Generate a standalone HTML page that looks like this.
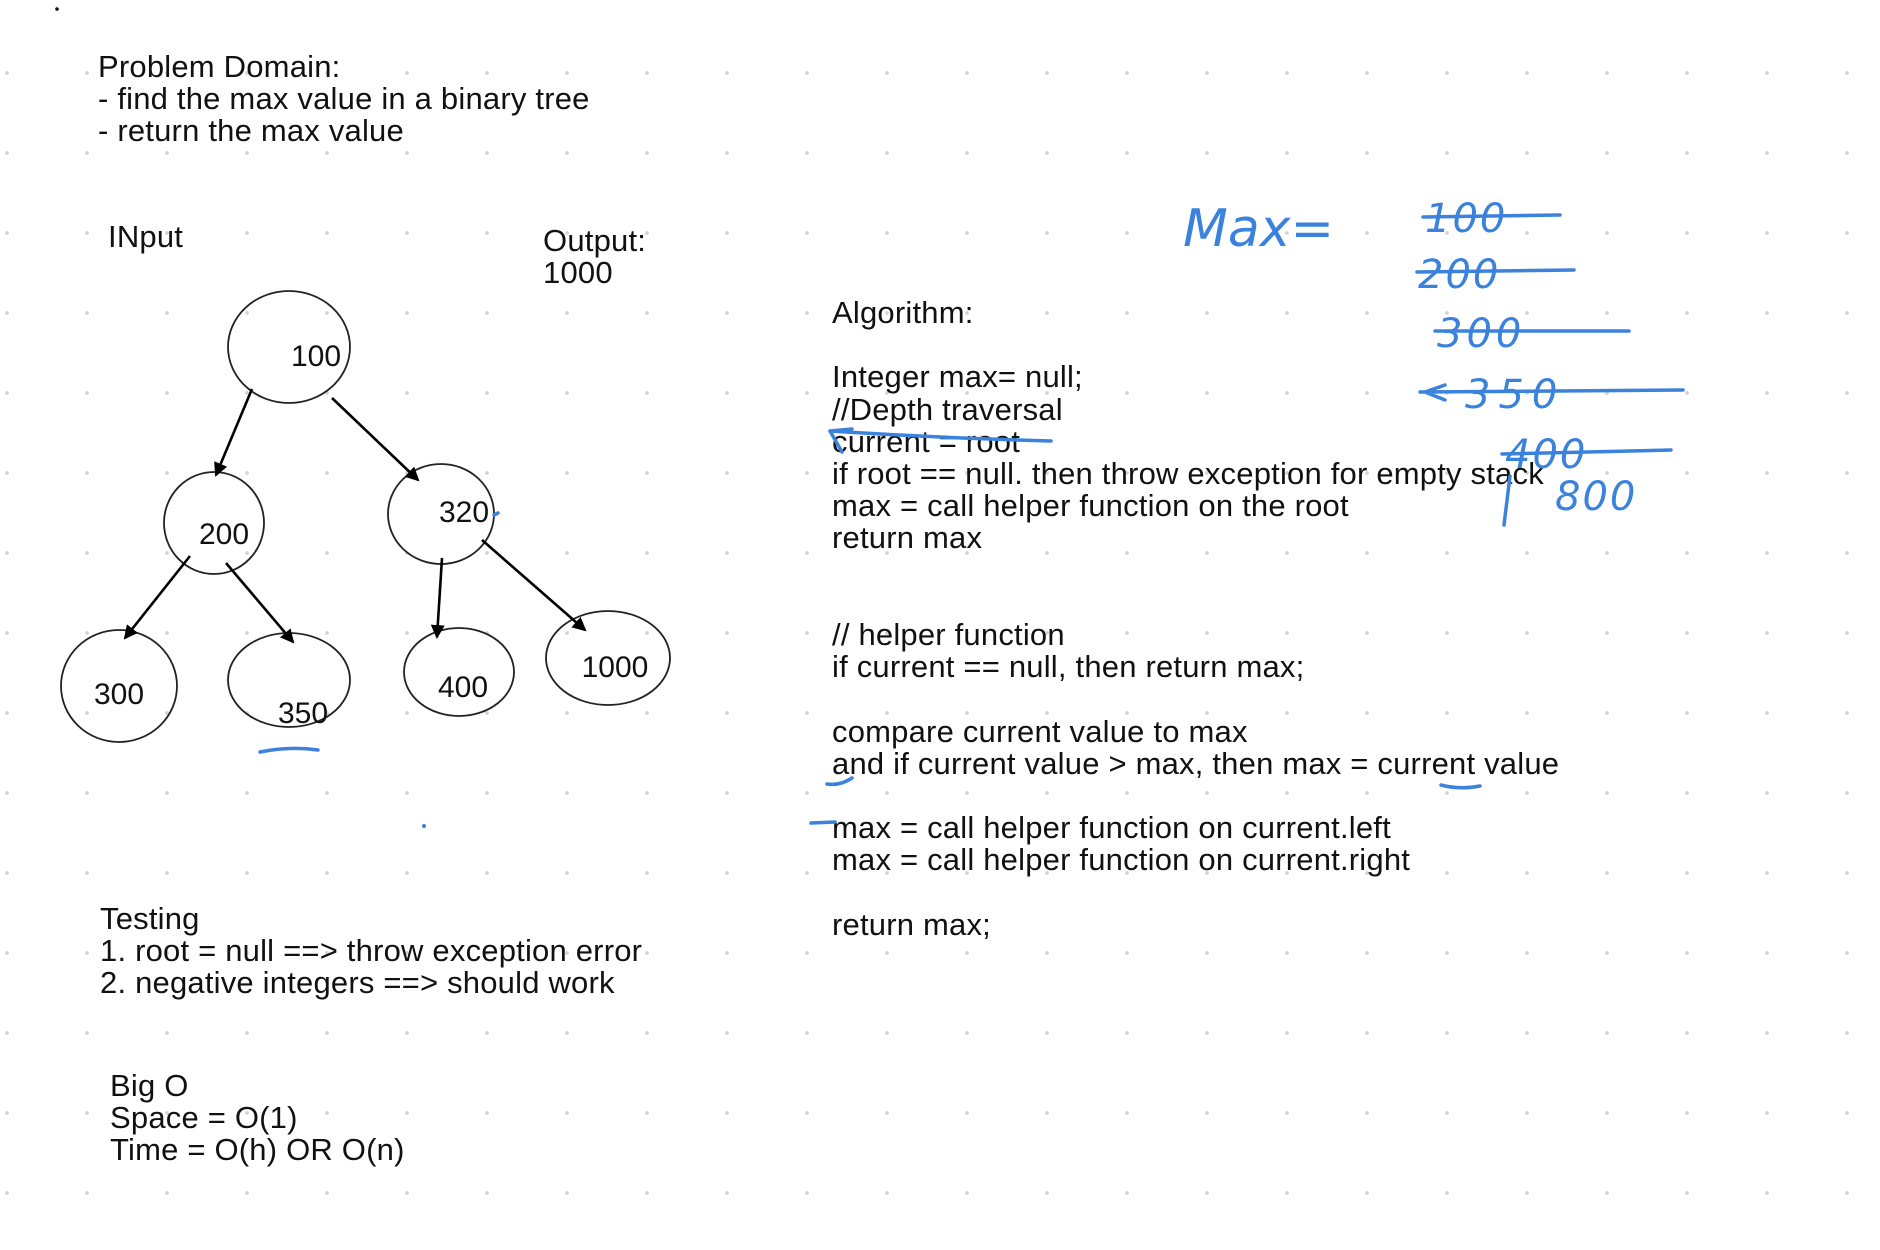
<!DOCTYPE html>
<html><head><meta charset="utf-8"><style>
html,body{margin:0;padding:0;background:#fff;}
body{width:1880px;height:1250px;position:relative;overflow:hidden;
background-image:radial-gradient(circle,#d4d4d4 1.6px,transparent 2.2px);
background-size:80px 80px;background-position:-33px 33px;}
.t{position:absolute;font-family:"Liberation Sans",Arial,sans-serif;font-size:31px;line-height:32.2px;color:#111;white-space:pre;letter-spacing:0.2px}
svg{position:absolute;left:0;top:0}
</style></head><body>
<div class="t" style="left:98px;top:51px">Problem Domain:
- find the max value in a binary tree
- return the max value</div>
<div class="t" style="left:108px;top:221px">INput</div>
<div class="t" style="left:543px;top:225px">Output:
1000</div>
<div class="t" style="left:832px;top:297px">Algorithm:

Integer max= null;
//Depth traversal
current = root
if root == null. then throw exception for empty stack
max = call helper function on the root
return max


// helper function
if current == null, then return max;

compare current value to max
and if current value &gt; max, then max = current value

max = call helper function on current.left
max = call helper function on current.right

return max;</div>
<div class="t" style="left:100px;top:903px">Testing
1. root = null ==&gt; throw exception error
2. negative integers ==&gt; should work</div>
<div class="t" style="left:110px;top:1070px">Big O
Space = O(1)
Time = O(h) OR O(n)</div>
<svg width="1880" height="1250" viewBox="0 0 1880 1250">
<defs><marker id="a" markerWidth="14" markerHeight="14" refX="12" refY="7" orient="auto" markerUnits="userSpaceOnUse" viewBox="0 0 14 14"><path d="M0,0 L14,7 L0,14 z" fill="#000"/></marker></defs>
<g fill="none" stroke="#222" stroke-width="1.8">
<ellipse cx="289" cy="347" rx="61" ry="56"/>
<ellipse cx="214" cy="523" rx="50" ry="51"/>
<ellipse cx="441" cy="514" rx="53" ry="50"/>
<ellipse cx="119" cy="686" rx="58" ry="56"/>
<ellipse cx="289" cy="680" rx="61" ry="47"/>
<ellipse cx="459" cy="672" rx="55" ry="44"/>
<ellipse cx="608" cy="658" rx="62" ry="47"/>
</g>
<g stroke="#000" stroke-width="2.6" marker-end="url(#a)">
<line x1="252" y1="389" x2="216" y2="475"/>
<line x1="332" y1="398" x2="418" y2="480"/>
<line x1="190" y1="556" x2="125" y2="638"/>
<line x1="226" y1="563" x2="293" y2="642"/>
<line x1="442" y1="558" x2="437" y2="637"/>
<line x1="482" y1="540" x2="585" y2="630"/>
</g>
<g font-family="Liberation Sans,Arial,sans-serif" font-size="30" text-anchor="middle" fill="#111">
<text x="316" y="366">100</text><text x="224" y="544">200</text><text x="464" y="522">320</text>
<text x="119" y="704">300</text><text x="303" y="723">350</text><text x="463" y="697">400</text><text x="615" y="677">1000</text>
</g>
<g fill="none" stroke="#3b82dc" stroke-width="3.5" stroke-linecap="round">
<path d="M1051,441 Q940,438 830,431 M830,431 L842,452 M830,431 L852,429"/>
<path d="M260,752 Q290,746 318,750"/>
<path d="M1441,785 Q1460,790 1480,786"/>
<path d="M827,784 Q840,786 852,778"/>
<path d="M811,823 L835,822"/>
<path d="M494,515 L498,513"/>
<path d="M1423,217 L1560,215"/>
<path d="M1417,272 L1574,270"/>
<path d="M1435,331 L1629,331"/>
<path d="M1420,392 L1683,390 M1425,392 L1445,385 M1425,392 L1445,400"/>
<path d="M1502,454 L1671,450"/>
<path d="M1510,476 L1504,525"/>
</g>
<circle cx="424" cy="826" r="2" fill="#3b82dc"/>
<g font-family="DejaVu Sans,sans-serif" fill="#3b82dc" font-style="italic" font-weight="300">
<text x="1183" y="246" font-size="52">Max=</text>
<text x="1425" y="232" font-size="40" letter-spacing="2">100</text>
<text x="1418" y="288" font-size="40" letter-spacing="2">200</text>
<text x="1437" y="347" font-size="40" letter-spacing="4">300</text>
<text x="1465" y="408" font-size="40" letter-spacing="8">350</text>
<text x="1505" y="468" font-size="40" letter-spacing="2">400</text>
<text x="1555" y="510" font-size="40" letter-spacing="2">800</text>
</g>
<circle cx="57" cy="9" r="1.8" fill="#111"/>
</svg>
</body></html>
